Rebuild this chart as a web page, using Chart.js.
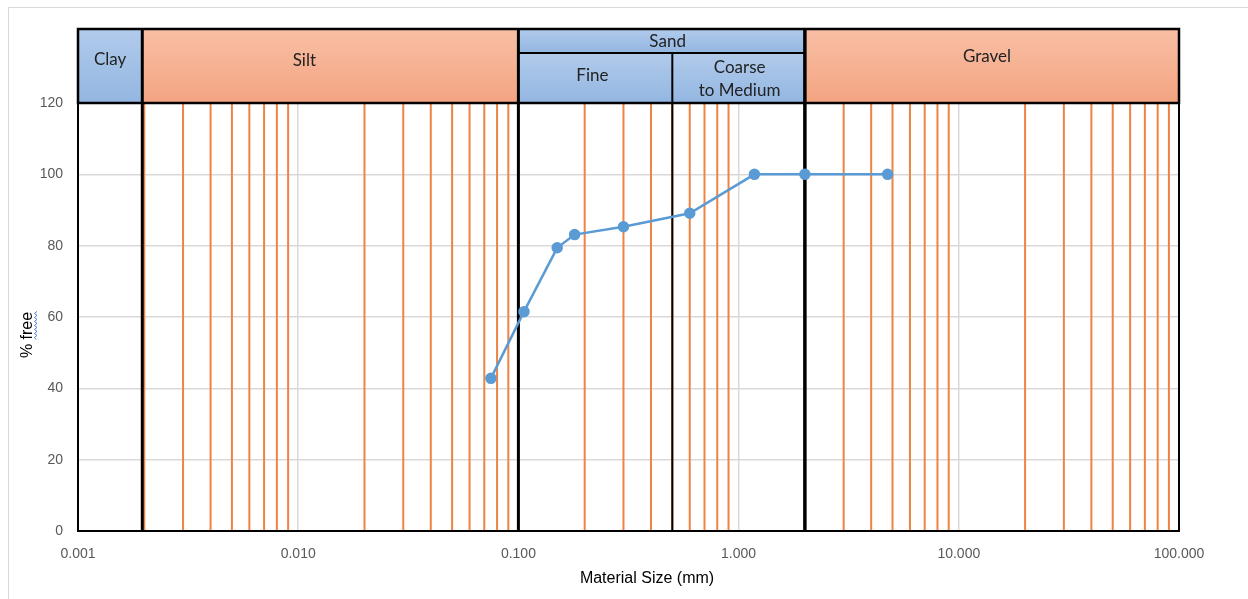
<!DOCTYPE html>
<html>
<head>
<meta charset="utf-8">
<script src="https://cdn.jsdelivr.net/npm/chart.js@4.4.1/dist/chart.umd.min.js"></script>
<style>
  html, body { margin: 0; padding: 0; background: #fff; }
</style>
</head>
<body>
<canvas id="chart" width="1248" height="599"></canvas>
<script>
// ---- data: grading curve ----
const sieveSizes = [0.075, 0.106, 0.15, 0.18, 0.3, 0.6, 1.18, 2.0, 4.75];
const percentFree = [42.8, 61.5, 79.4, 83.1, 85.3, 89.1, 100, 100, 100];

// axis ticks
const xTicks = [0.001, 0.01, 0.1, 1, 10, 100];
const yTicks = [0, 20, 40, 60, 80, 100, 120];

// orange reference lines (2..9 of every decade)
const sieveLines = [
    0.002, 0.003, 0.004, 0.005, 0.006, 0.007, 0.008, 0.009,
    0.02, 0.03, 0.04, 0.05, 0.06, 0.07, 0.08, 0.09,
    0.2, 0.3, 0.4, 0.5, 0.6, 0.7, 0.8, 0.9,
    2, 3, 4, 5, 6, 7, 8, 9,
    20, 30, 40, 50, 60, 70, 80, 90
];

// soil classes across the top
const classNames = ['Clay', 'Silt', 'Sand', 'Gravel'];
const classEdges = [0.001, 0.002, 0.1, 2, 100];
const sandNames = [['Fine'], ['Coarse', 'to Medium']];
const sandEdges = [0.1, 0.5, 2];

// ---- styles ----
const ORANGE = '#ef8343';
const SERIES_BLUE = '#5b9bd5';
const FILLS = {
    blue: ['#b1cbeb', '#93b6e1'],
    salmon: ['#f8bfa5', '#f4a481']
};
const classFill = { Clay: 'blue', Silt: 'salmon', Sand: 'blue', Gravel: 'salmon' };
const labelNudge = { Silt: [-26, 1], Gravel: [-5, -3], Sand: [6, 0], Fine: [-3, -3], Coarse: [1, 0] };
const boundaryWidth = { 0.002: 3, 0.1: 3, 0.5: 2, 2: 3.5 };
const boundaryShift = { 0.002: -2 };

const BAND_TOP = 29;
const SAND_SPLIT = 53;
const LABEL_FONT = '17px Lato';
const AXIS_FONT = '"Liberation Sans", Arial, sans-serif';

function gradFill(ctx, kind, y0, y1) {
    const g = ctx.createLinearGradient(0, y0, 0, y1);
    g.addColorStop(0, FILLS[kind][0]);
    g.addColorStop(1, FILLS[kind][1]);
    return g;
}

function drawLabel(ctx, lines, cx, cy, key) {
    const n = labelNudge[key] || [0, 0];
    ctx.font = LABEL_FONT;
    ctx.fillStyle = '#222';
    ctx.textAlign = 'center';
    ctx.textBaseline = 'middle';
    const lh = 23;
    lines.forEach((t, i) => {
        ctx.fillText(t, cx + n[0], cy + n[1] + (i - (lines.length - 1) / 2) * lh);
    });
}

function edgePx(x, v) {
    return x.getPixelForValue(v) + (boundaryShift[v] || 0);
}

const soilPlugin = {
    id: 'soil',
    beforeDraw(chart) {
        const { ctx } = chart;
        ctx.save();
        ctx.fillStyle = '#fff';
        ctx.fillRect(0, 0, chart.width, chart.height);
        ctx.strokeStyle = '#d9d9d9';
        ctx.lineWidth = 1;
        ctx.strokeRect(8.5, 7.5, chart.width + 20, chart.height + 20);
        ctx.restore();
    },
    beforeDatasetDraw(chart, args) {
        if (args.index !== 0) return;
        // class boundaries sit above the orange lines but under the curve
        const { ctx, chartArea: a, scales: { x } } = chart;
        ctx.save();
        ctx.strokeStyle = '#000';
        Object.keys(boundaryWidth).forEach(k => {
            const px = edgePx(x, Number(k));
            ctx.lineWidth = boundaryWidth[k];
            ctx.beginPath();
            ctx.moveTo(px, a.top);
            ctx.lineTo(px, a.bottom);
            ctx.stroke();
        });
        ctx.restore();
    },
    afterDraw(chart) {
        const { ctx, chartArea: a, scales: { x } } = chart;
        ctx.save();

        // plot frame
        ctx.strokeStyle = '#000';
        ctx.lineWidth = 2;
        ctx.beginPath();
        ctx.moveTo(a.left, a.top);
        ctx.lineTo(a.left, a.bottom);
        ctx.lineTo(a.right, a.bottom);
        ctx.lineTo(a.right, a.top);
        ctx.stroke();

        // header boxes
        const top = BAND_TOP, bot = a.top;
        classNames.forEach((name, i) => {
            const x0 = edgePx(x, classEdges[i]);
            const x1 = edgePx(x, classEdges[i + 1]);
            if (name === 'Sand') {
                ctx.fillStyle = gradFill(ctx, 'blue', top, SAND_SPLIT);
                ctx.fillRect(x0, top, x1 - x0, SAND_SPLIT - top);
                ctx.fillStyle = gradFill(ctx, 'blue', SAND_SPLIT, bot);
                ctx.fillRect(x0, SAND_SPLIT, x1 - x0, bot - SAND_SPLIT);
            } else {
                ctx.fillStyle = gradFill(ctx, classFill[name], top, bot);
                ctx.fillRect(x0, top, x1 - x0, bot - top);
            }
        });

        ctx.strokeStyle = '#000';
        ctx.lineWidth = 2.5;
        ctx.strokeRect(a.left, top, a.right - a.left, bot - top);
        classEdges.slice(1, -1).forEach(v => {
            const px = edgePx(x, v);
            ctx.lineWidth = boundaryWidth[v] || 2.5;
            ctx.beginPath();
            ctx.moveTo(px, top);
            ctx.lineTo(px, bot);
            ctx.stroke();
        });
        const s0 = edgePx(x, sandEdges[0]);
        const s1 = edgePx(x, sandEdges[sandEdges.length - 1]);
        ctx.lineWidth = 2;
        ctx.beginPath();
        ctx.moveTo(s0, SAND_SPLIT);
        ctx.lineTo(s1, SAND_SPLIT);
        const sm = edgePx(x, sandEdges[1]);
        ctx.moveTo(sm, SAND_SPLIT);
        ctx.lineTo(sm, bot);
        ctx.stroke();

        // header labels
        classNames.forEach((name, i) => {
            const x0 = edgePx(x, classEdges[i]);
            const x1 = edgePx(x, classEdges[i + 1]);
            if (name === 'Sand') {
                drawLabel(ctx, [name], (x0 + x1) / 2, (top + SAND_SPLIT) / 2 + 1, name);
            } else {
                drawLabel(ctx, [name], (x0 + x1) / 2, top + 31, name);
            }
        });
        sandNames.forEach((lines, i) => {
            const x0 = edgePx(x, sandEdges[i]);
            const x1 = edgePx(x, sandEdges[i + 1]);
            drawLabel(ctx, lines, (x0 + x1) / 2, (SAND_SPLIT + bot) / 2 + 1, lines[0]);
        });

        // axis titles
        ctx.fillStyle = '#000';
        ctx.textAlign = 'center';
        ctx.textBaseline = 'middle';
        ctx.font = '16px ' + AXIS_FONT;
        ctx.fillText('Material Size (mm)', 647, 579);

        ctx.translate(28, 335);
        ctx.rotate(-Math.PI / 2);
        const title = '% free';
        ctx.fillText(title, 0, 0);
        // grammar-check squiggle under "free"
        const w = ctx.measureText(title).width;
        const wf = ctx.measureText('free').width;
        ctx.strokeStyle = '#4a7fd6';
        ctx.lineWidth = 1;
        ctx.beginPath();
        let px = w / 2 - wf;
        let up = true;
        ctx.moveTo(px, 8);
        while (px < w / 2) {
            px += 2;
            ctx.lineTo(px, up ? 6.5 : 9);
            up = !up;
        }
        ctx.stroke();

        ctx.restore();
    }
};

const sieveLineSets = sieveLines.map(v => ({
    data: [{ x: v, y: yTicks[0] }, { x: v, y: yTicks[yTicks.length - 1] }],
    borderColor: ORANGE,
    borderWidth: 2,
    pointRadius: 0,
    showLine: true,
    order: 2
}));

new Chart(document.getElementById('chart'), {
    type: 'scatter',
    data: {
        datasets: [
            {
                label: '% free',
                data: sieveSizes.map((s, i) => ({ x: s, y: percentFree[i] })),
                borderColor: SERIES_BLUE,
                backgroundColor: SERIES_BLUE,
                borderWidth: 2.5,
                pointRadius: 4.5,
                pointHoverRadius: 4.5,
                showLine: true,
                order: 0
            },
            ...sieveLineSets
        ]
    },
    options: {
        responsive: false,
        animation: false,
        layout: { padding: { top: 103, right: 69, left: 0, bottom: 0 } },
        plugins: {
            legend: { display: false },
            tooltip: { enabled: false }
        },
        scales: {
            x: {
                type: 'logarithmic',
                min: xTicks[0],
                max: xTicks[xTicks.length - 1],
                afterBuildTicks: s => { s.ticks = xTicks.map(v => ({ value: v })); },
                afterFit: s => { s.height = 68; },
                ticks: {
                    callback: v => Number(v).toFixed(3),
                    color: '#595959',
                    font: { family: AXIS_FONT, size: 14 },
                    padding: 15,
                    autoSkip: false,
                    maxRotation: 0
                },
                grid: { color: '#d9d9d9', lineWidth: 1.5, drawTicks: false },
                border: { display: false }
            },
            y: {
                min: yTicks[0],
                max: yTicks[yTicks.length - 1],
                afterBuildTicks: s => { s.ticks = yTicks.map(v => ({ value: v })); },
                afterFit: s => { s.width = 78; },
                ticks: {
                    color: '#595959',
                    font: { family: AXIS_FONT, size: 14 },
                    padding: 15
                },
                grid: { color: '#d9d9d9', lineWidth: 1.5, drawTicks: false },
                border: { display: false }
            }
        }
    },
    plugins: [soilPlugin]
});
</script>
</body>
</html>
